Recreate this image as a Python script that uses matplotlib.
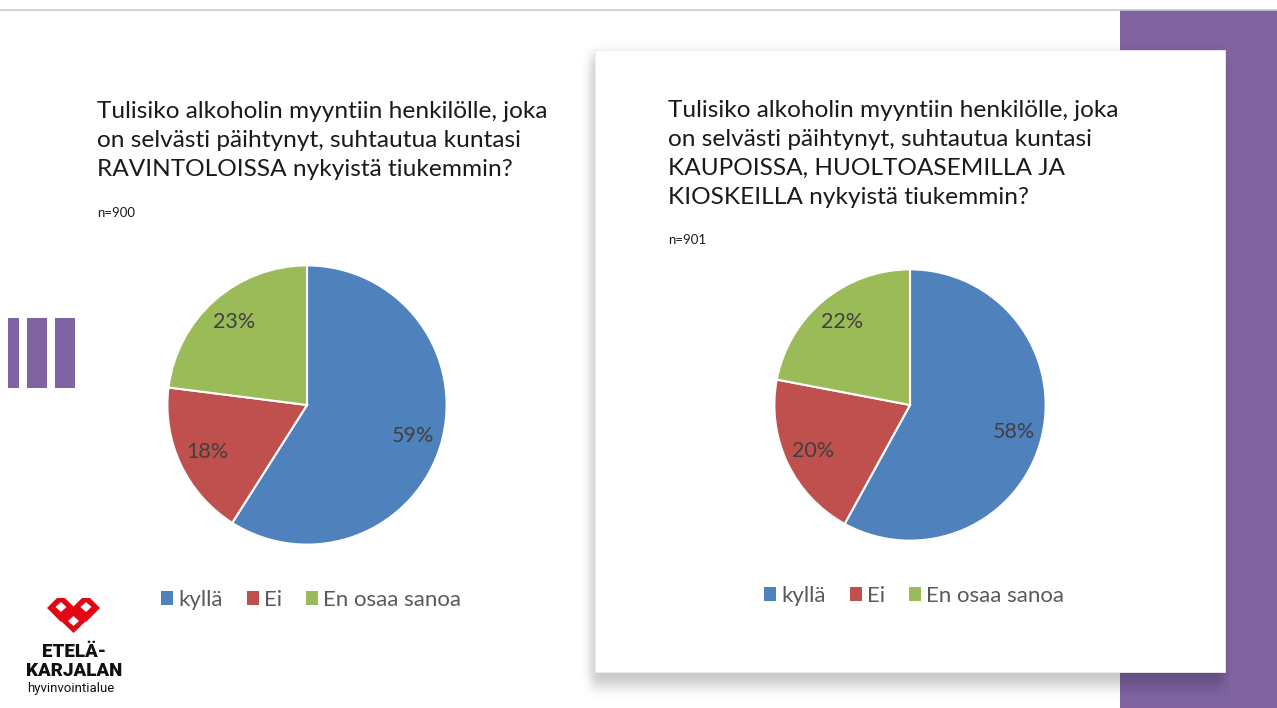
import math
import numpy as np
import matplotlib.pyplot as plt
from matplotlib.patches import Rectangle, Polygon

# Chart data
labels = ['kyllä', 'Ei', 'En osaa sanoa']
colors = ['#4F81BD', '#C0504D', '#9BBB59']
left_values = [59, 18, 23]
right_values = [58, 20, 22]
left_n = 'n=900'
right_n = 'n=901'
left_title = ['Tulisiko alkoholin myyntiin henkilölle, joka',
              'on selvästi päihtynyt, suhtautua kuntasi',
              'RAVINTOLOISSA nykyistä tiukemmin?']
right_title = ['Tulisiko alkoholin myyntiin henkilölle, joka',
               'on selvästi päihtynyt, suhtautua kuntasi',
               'KAUPOISSA, HUOLTOASEMILLA JA',
               'KIOSKEILLA nykyistä tiukemmin?']

W, H = 1277, 708
FONT = 'Lato'
PURPLE = '#8064A2'

fig = plt.figure(figsize=(W / 100, H / 100), dpi=100)
fig.patch.set_facecolor('white')

# background layer in pixel coordinates
bg = fig.add_axes([0, 0, 1, 1])
bg.set_xlim(0, W)
bg.set_ylim(H, 0)
bg.axis('off')

bg.plot([0, W], [9.5, 9.5], color='#c8c8c8', lw=1.2)
bg.add_patch(Rectangle((1120, 10), W - 1120, H - 10, color=PURPLE, lw=0))

# left decorative bars
for x0, w in [(8, 11), (27, 20), (55, 20)]:
    bg.add_patch(Rectangle((x0, 318), w, 70, color=PURPLE, lw=0))

# soft shadow under the card (blurred rectangle)
erf = np.vectorize(math.erf)
xs = np.arange(560, W) + 0.5
ys = np.arange(40, H) + 0.5
sx, sy = 7.0, 10.0
fx = 0.5 * (erf((xs - 591) / sx) - erf((xs - 1224) / sx))
fy = 0.5 * (erf((ys - 56) / sy) - erf((ys - 686) / sy))
alpha = 0.22 * np.outer(fy, fx)
shadow = np.zeros((len(ys), len(xs), 4))
shadow[..., 3] = alpha
bg.imshow(shadow, extent=(560, W, H, 40), interpolation='bilinear', zorder=2)
bg.set_xlim(0, W)
bg.set_ylim(H, 0)
bg.set_aspect('auto')

bg.add_patch(Rectangle((595, 50), 630, 622, facecolor='white', edgecolor='#ececec', lw=0.6, zorder=3))

# titles
for i, line in enumerate(left_title):
    bg.text(97, 118 + i * 29, line, fontsize=17.6, family=FONT, color='#1a1a1a', va='baseline', zorder=4)
for i, line in enumerate(right_title):
    bg.text(668, 117 + i * 29, line, fontsize=17.6, family=FONT, color='#1a1a1a', va='baseline', zorder=4)
bg.text(97, 217, left_n, fontsize=9.5, family=FONT, color='#1a1a1a', va='baseline', zorder=4)
bg.text(668, 244, right_n, fontsize=9.5, family=FONT, color='#1a1a1a', va='baseline', zorder=4)

# logo
RED = '#E30613'
def lobe(cx, cy, hw, hh, top=None):
    pts = [(cx - hw, cy), (cx, cy - hh), (cx + hw, cy), (cx, cy + hh)]
    if top is not None:
        d = (cy - top) / hh * hw
        pts = [(cx - hw, cy), (cx - hw + d, top), (cx + hw - d, top), (cx + hw, cy), (cx, cy + hh)]
    bg.add_patch(Polygon(pts, closed=True, color=RED, lw=0, zorder=4))

lobe(61, 608, 14, 14, top=598)
lobe(86, 608, 14, 14, top=598)
lobe(73.5, 620, 13.5, 13)
for cx, cy in [(61, 607), (86, 607), (73.5, 621)]:
    bg.add_patch(Polygon([(cx - 5.5, cy), (cx, cy - 5), (cx + 5.5, cy), (cx, cy + 5)],
                         closed=True, color='white', lw=0, zorder=5))
bg.text(74, 657, 'ETELÄ-', fontsize=13.5, family='Roboto', weight='heavy', ha='center', va='baseline', color='#111111')
bg.text(74, 676, 'KARJALAN', fontsize=13.5, family='Roboto', weight='heavy', ha='center', va='baseline', color='#111111')
bg.text(71, 692, 'hyvinvointialue', fontsize=9.5, family='Roboto', ha='center', va='baseline', color='#111111')


def pie_axes(cx, cy, r):
    return fig.add_axes([(cx - r) / W, (H - cy - r) / H, 2 * r / W, 2 * r / H])


def draw_pie(ax, values):
    ax.pie(values, colors=colors, startangle=90, counterclock=False,
           autopct='%1.0f%%', pctdistance=0.79,
           wedgeprops=dict(edgecolor='white', linewidth=1.5),
           textprops=dict(fontsize=15.5, family=FONT, color='#404040'))
    ax.set_xlim(-1.01, 1.01)
    ax.set_ylim(-1.01, 1.01)
    ax.set_aspect('auto')
    ax.axis('off')


ax1 = pie_axes(307, 405, 141)
draw_pie(ax1, left_values)
ax2 = pie_axes(910, 405, 137)
draw_pie(ax2, right_values)

# legends
for ax, cx, cy in [(ax1, 311, 600), (ax2, 914, 596)]:
    leg = ax.legend(ax.patches, labels, loc='center', bbox_to_anchor=(cx / W, 1 - cy / H),
                    bbox_transform=fig.transFigure, ncol=3, frameon=False,
                    handlelength=0.55, handleheight=0.55, handletextpad=0.2, columnspacing=1.1,
                    prop=dict(family=FONT, size=16))
    for t in leg.get_texts():
        t.set_color('#595959')
    for h in leg.legend_handles:
        h.set_edgecolor('none')

fig.savefig('out.png', dpi=100)
